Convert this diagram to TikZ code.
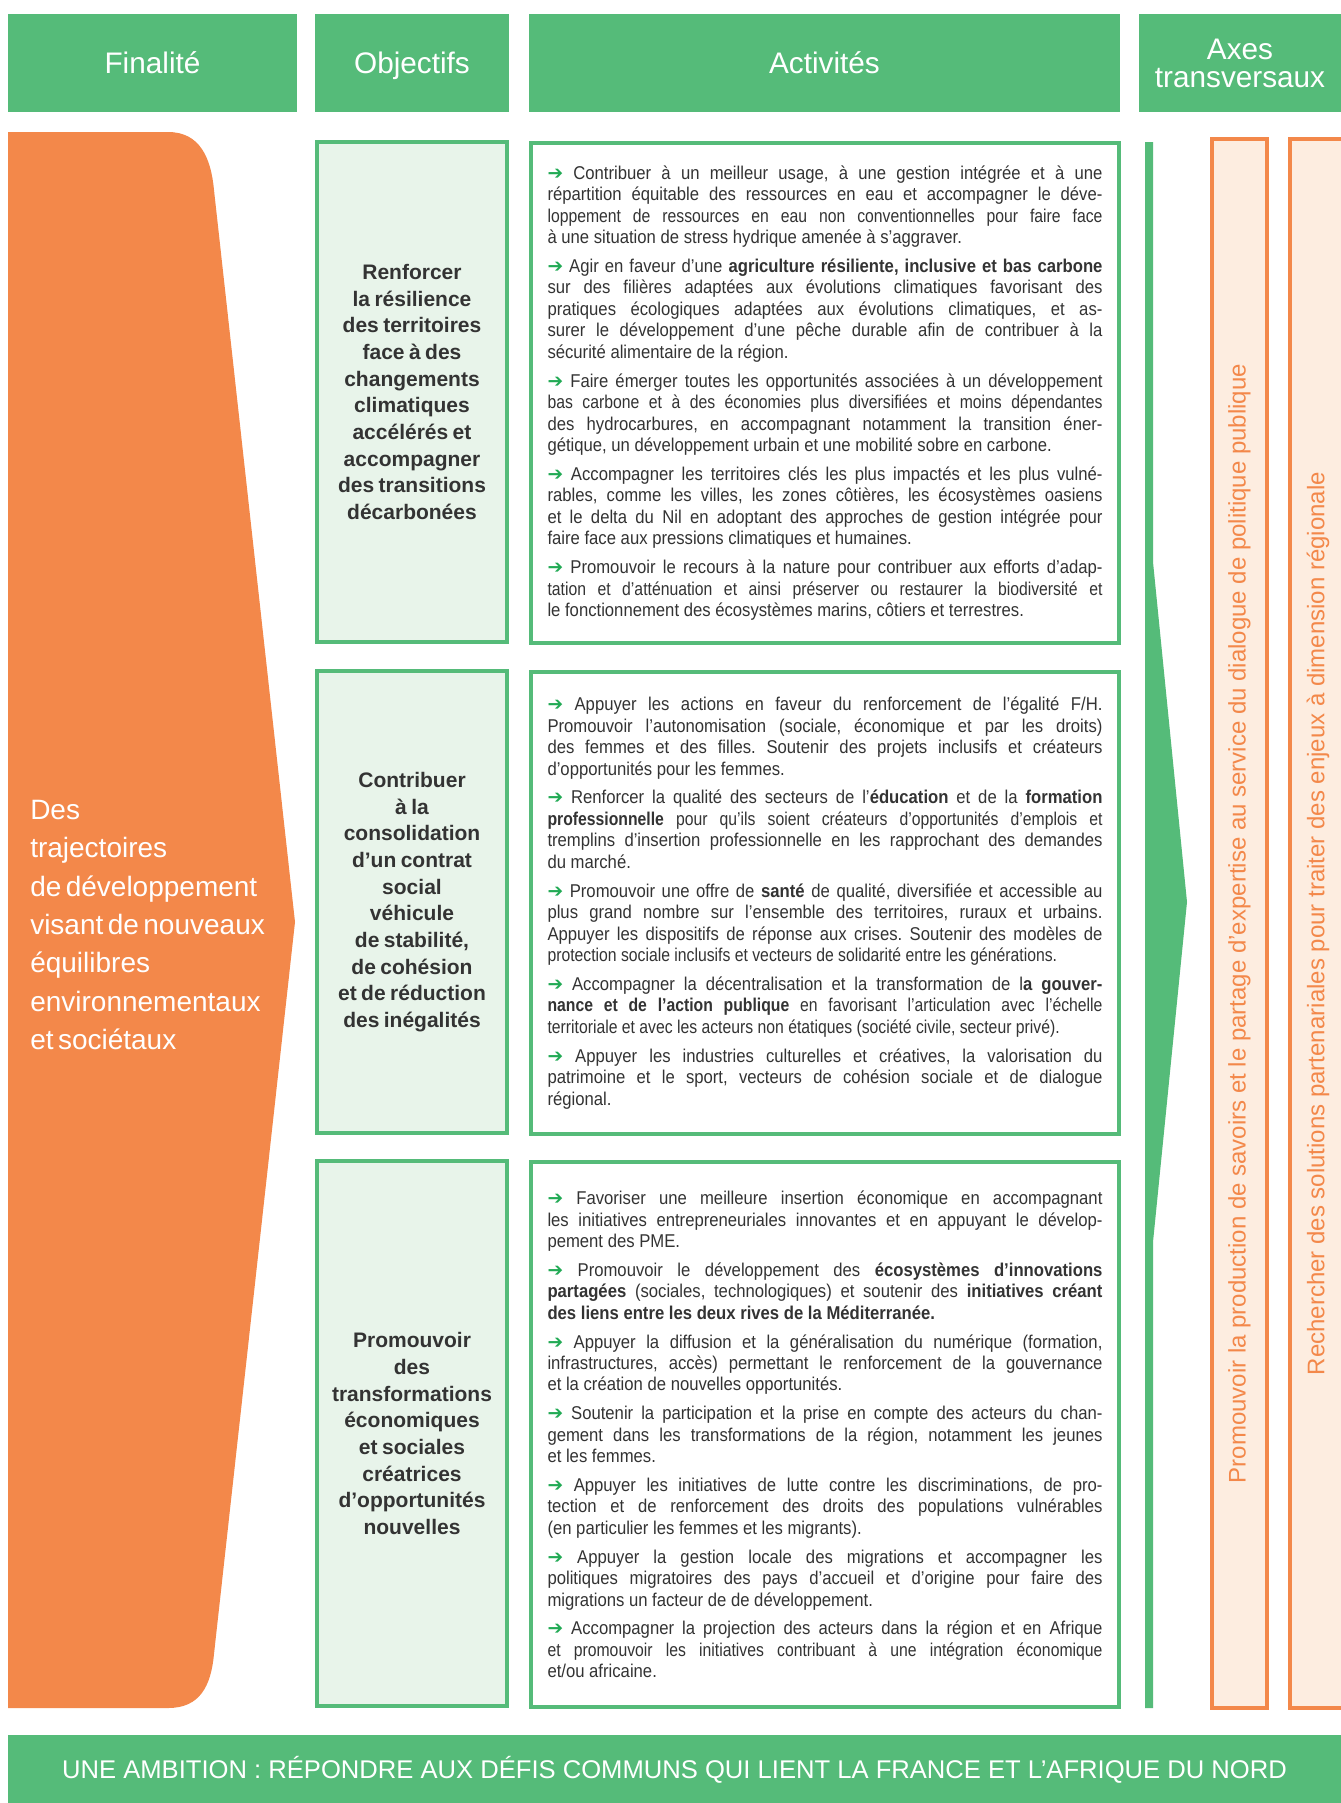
\documentclass[tikz,border=0pt]{standalone}
\usepackage{fontspec}
\setmainfont{Liberation Sans}
\newfontfamily\bodyfont[FakeStretch=0.9]{Liberation Sans}
\newfontfamily\tightfont[FakeStretch=0.85]{Liberation Sans}
\newfontfamily\symfont{DejaVu Sans}
\definecolor{hgreen}{HTML}{55BB79}
\definecolor{lgreen}{HTML}{E8F4EA}
\definecolor{agreen}{HTML}{22AA55}
\definecolor{orng}{HTML}{F3884A}
\definecolor{lorng}{HTML}{FDEDE0}
\definecolor{ink}{HTML}{333333}
\newcommand\arw{{\symfont\fontsize{14pt}{14pt}\selectfont\color{agreen}➔}\ }
\newcommand\tight[1]{{\tightfont #1}}
\newcommand\actfont{\bodyfont\fontsize{13.9pt}{16.1pt}\selectfont\frenchspacing\setlength\parskip{5.5pt}\tolerance=200 \emergencystretch=0pt \hyphenpenalty=10000 }
\newcommand\objfont{\bfseries\fontsize{15.75pt}{20pt}\selectfont}
\newcommand\finfont{\fontsize{21pt}{28.7pt}\selectfont}
\newcommand\hdrfont{\fontsize{22.3pt}{21pt}\selectfont}
\begin{document}
\begin{tikzpicture}[
    x=0.75pt, y=-0.75pt,
    hdrbox/.style={fill=hgreen, text=white, inner sep=0pt, minimum height=73.5pt},
    hdr/.style={hdrbox, font=\hdrfont, text height=20.5pt, text depth=4.5pt},
    objbox/.style={draw=hgreen, line width=3pt, fill=lgreen, inner sep=0pt, minimum width=142.5pt, text width=135pt, align=center, text=ink},
    actbox/.style={draw=hgreen, line width=3pt, fill=white, inner sep=0pt, minimum width=441pt, text width=416.25pt, align=justify, text=ink},
    axebox/.style={draw=orng, line width=3pt, fill=lorng, inner sep=0pt, rotate=90, minimum width=1176.75pt, text=orng, font=\fontsize{18pt}{20pt}\selectfont}
]
\path[fill=white, use as bounding box] (0,0) rectangle (1341,1803);

% column heads
\node[hdr, minimum width=216.75pt] (hfin) at (152.5,63) {Finalité};
\node[hdr, minimum width=145.5pt] (hobj) at (412,63) {Objectifs};
\node[hdr, minimum width=443.25pt] (hact) at (824.5,63) {Activités};
\node[hdrbox, minimum width=151.5pt, text width=150pt, align=center] (haxe) at (1240,63) {\hdrfont Axes\\transversaux\par};

% finalite
\fill[orng] (8,132) -- (168,132) .. controls (200,132) and (211,158) .. (214,190) -- (295,922)
  -- (214,1654) .. controls (211,1686) and (200,1708) .. (168,1708) -- (8,1708) -- cycle;
\node[anchor=west, inner sep=0pt, text width=210pt, align=left, text=white] (fin) at (30,925)
  {\finfont Des\\trajectoires\\de développement\\visant de nouveaux\\équilibres\\environnementaux\\et sociétaux\par};

% objectifs
\node[objbox, minimum height=375pt] (o1) at (412,392)
  {\objfont Renforcer\\la résilience\\des territoires\\face à des\\changements\\climatiques\\accélérés et\\accompagner\\des transitions\\décarbonées\par};
\node[objbox, minimum height=346.5pt] (o2) at (412,902)
  {\objfont Contribuer\\à la\\consolidation\\d’un contrat\\social\\véhicule\\de stabilité,\\de cohésion\\et de réduction\\des inégalités\par};
\node[objbox, minimum height=408.75pt] (o3) at (412,1433.5)
  {\objfont Promouvoir\\des\\transformations\\économiques\\et sociales\\créatrices\\d’opportunités\\nouvelles\par};

% activites
\node[actbox, minimum height=375pt] (a1) at (825,393) {\actfont
\arw Contribuer à un meilleur usage, à une gestion intégrée et à une\linebreak
répartition équitable des ressources en eau et accompagner le déve-\linebreak
\tight{loppement de ressources en eau non conventionnelles pour faire face}\linebreak
à une situation de stress hydrique amenée à s’aggraver.\par
\arw Agir en faveur d’une \textbf{agriculture résiliente, inclusive et bas carbone}\linebreak
sur des filières adaptées aux évolutions climatiques favorisant des\linebreak
pratiques écologiques adaptées aux évolutions climatiques, et as-\linebreak
surer le développement d’une pêche durable afin de contribuer à la\linebreak
sécurité alimentaire de la région.\par
\arw Faire émerger toutes les opportunités associées à un développement\linebreak
\tight{bas carbone et à des économies plus diversifiées et moins dépendantes}\linebreak
des hydrocarbures, en accompagnant notamment la transition éner-\linebreak
gétique, un développement urbain et une mobilité sobre en carbone.\par
\arw Accompagner les territoires clés les plus impactés et les plus vulné-\linebreak
rables, comme les villes, les zones côtières, les écosystèmes oasiens\linebreak
et le delta du Nil en adoptant des approches de gestion intégrée pour\linebreak
faire face aux pressions climatiques et humaines.\par
\arw Promouvoir le recours à la nature pour contribuer aux efforts d’adap-\linebreak
\tight{tation et d’atténuation et ainsi préserver ou restaurer la biodiversité et}\linebreak
le fonctionnement des écosystèmes marins, côtiers et terrestres.\par};

\node[actbox, minimum height=346.5pt] (a2) at (825,903) {\actfont
\arw Appuyer les actions en faveur du renforcement de l’égalité F/H.\linebreak
Promouvoir l’autonomisation (sociale, économique et par les droits)\linebreak
des femmes et des filles. Soutenir des projets inclusifs et créateurs\linebreak
d’opportunités pour les femmes.\par
\arw Renforcer la qualité des secteurs de l’\textbf{éducation} et de la \textbf{formation}\linebreak
\tight{\textbf{professionnelle} pour qu’ils soient créateurs d’opportunités d’emplois et}\linebreak
tremplins d’insertion professionnelle en les rapprochant des demandes\linebreak
du marché.\par
\arw Promouvoir une offre de \textbf{santé} de qualité, diversifiée et accessible au\linebreak
plus grand nombre sur l’ensemble des territoires, ruraux et urbains.\linebreak
Appuyer les dispositifs de réponse aux crises. Soutenir des modèles de\linebreak
\tight{protection sociale inclusifs et vecteurs de solidarité entre les générations.}\par
\arw Accompagner la décentralisation et la transformation de l\textbf{a gouver-}\linebreak
\tight{\textbf{nance et de l’action publique} en favorisant l’articulation avec l’échelle}\linebreak
\tight{territoriale et avec les acteurs non étatiques (société civile, secteur privé).}\par
\arw Appuyer les industries culturelles et créatives, la valorisation du\linebreak
patrimoine et le sport, vecteurs de cohésion sociale et de dialogue\linebreak
régional.\par};

\node[actbox, minimum height=408.75pt] (a3) at (825,1434.5) {\actfont
\arw Favoriser une meilleure insertion économique en accompagnant\linebreak
les initiatives entrepreneuriales innovantes et en appuyant le dévelop-\linebreak
pement des PME.\par
\arw Promouvoir le développement des \textbf{écosystèmes d’innovations}\linebreak
\textbf{partagées} (sociales, technologiques) et soutenir des \textbf{initiatives créant}\linebreak
\textbf{des liens entre les deux rives de la Méditerranée.}\par
\arw Appuyer la diffusion et la généralisation du numérique (formation,\linebreak
infrastructures, accès) permettant le renforcement de la gouvernance\linebreak
et la création de nouvelles opportunités.\par
\arw Soutenir la participation et la prise en compte des acteurs du chan-\linebreak
gement dans les transformations de la région, notamment les jeunes\linebreak
et les femmes.\par
\arw Appuyer les initiatives de lutte contre les discriminations, de pro-\linebreak
tection et de renforcement des droits des populations vulnérables\linebreak
(en particulier les femmes et les migrants).\par
\arw Appuyer la gestion locale des migrations et accompagner les\linebreak
politiques migratoires des pays d’accueil et d’origine pour faire des\linebreak
migrations un facteur de de développement.\par
\arw Accompagner la projection des acteurs dans la région et en Afrique\linebreak
\tight{et promouvoir les initiatives contribuant à une intégration économique}\linebreak
et/ou africaine.\par};

% arrow towards the axes
\fill[hgreen] (1145,142) -- (1153,142) -- (1153,562) -- (1187,902) -- (1153,1242) -- (1153,1708) -- (1145,1708) -- cycle;

% axes transversaux
\node[axebox, minimum height=41.25pt] (ax1) at (1239.5,923.5)
  {Promouvoir la production de savoirs et le partage d’expertise au service du dialogue de politique publique};
\node[axebox, minimum height=42pt] (ax2) at (1318,923.5)
  {Rechercher des solutions partenariales pour traiter des enjeux à dimension régionale};

% ambition
\node[fill=hgreen, text=white, inner sep=0pt, minimum width=999.75pt, minimum height=52.5pt,
  font=\fontsize{19.2pt}{22pt}\selectfont] (amb) at (674.5,1770)
  {UNE AMBITION : RÉPONDRE AUX DÉFIS COMMUNS QUI LIENT LA FRANCE ET L’AFRIQUE DU NORD};

\end{tikzpicture}
\end{document}
